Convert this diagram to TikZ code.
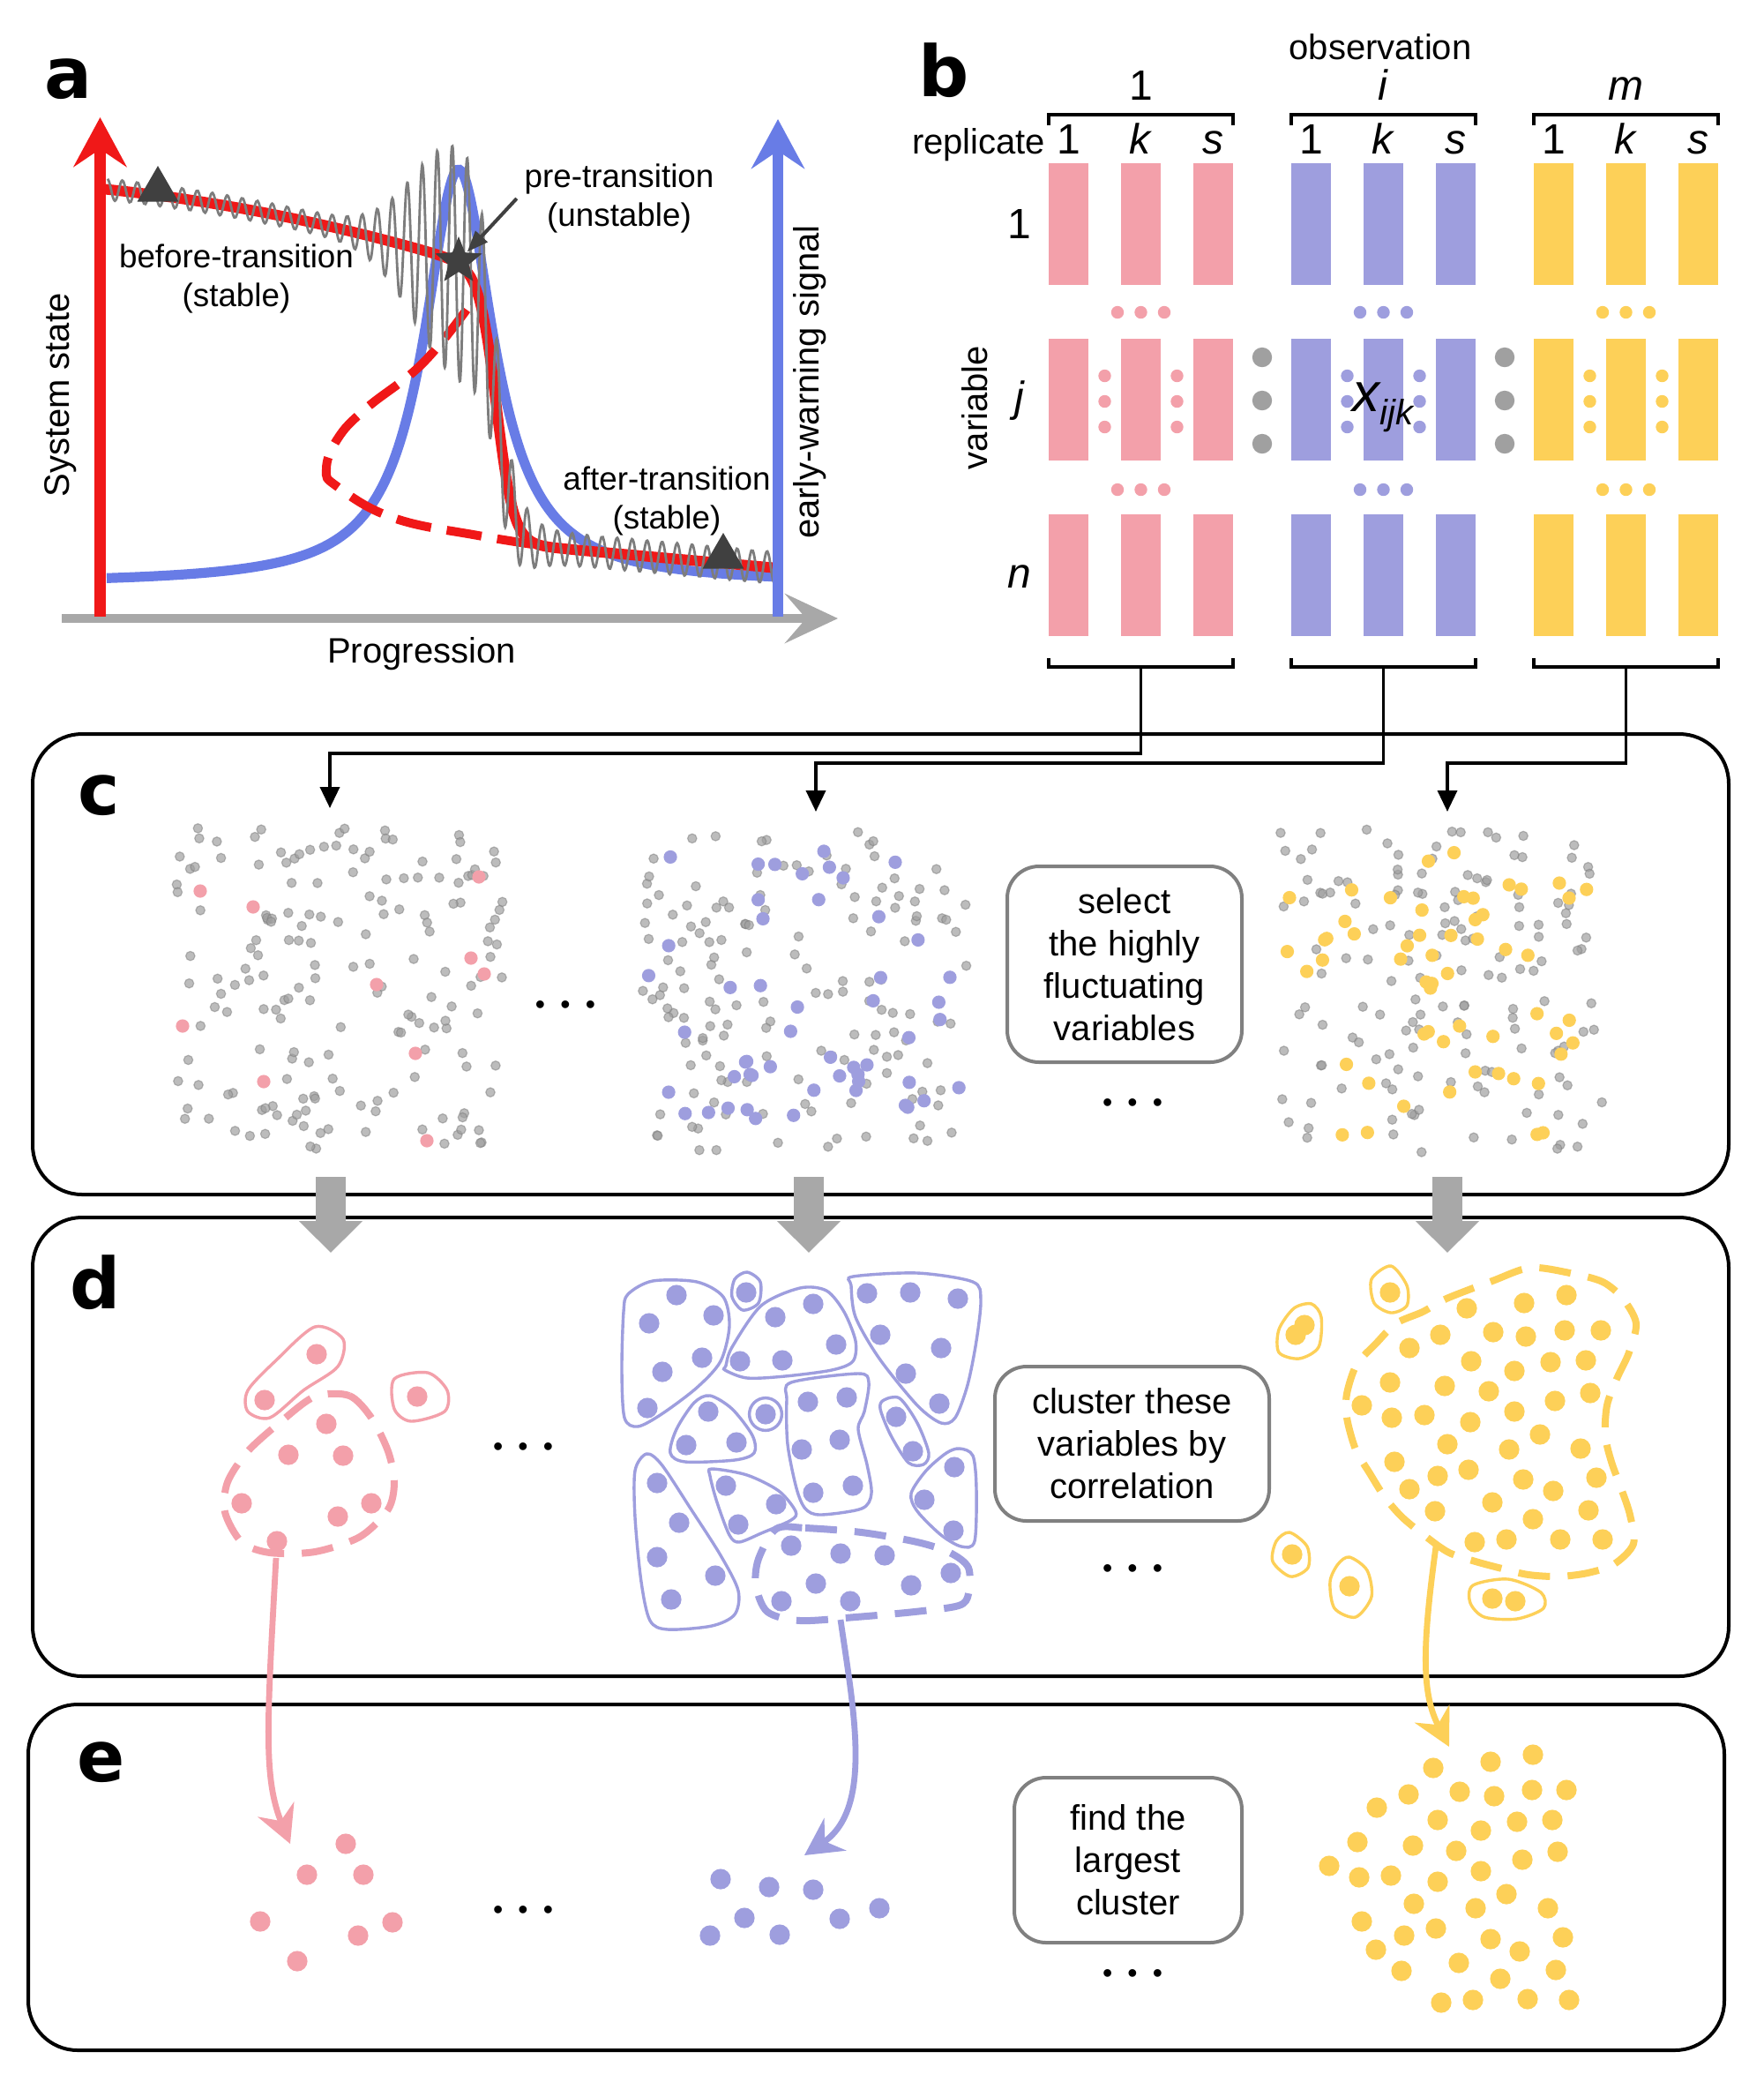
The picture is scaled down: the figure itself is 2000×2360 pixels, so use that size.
\documentclass[tikz,border=0pt]{standalone}
\usepackage{fontspec}
\setmainfont{Liberation Sans}
\newfontfamily\panelfont{DejaVu Sans}
\usepackage{tikz}
\usetikzlibrary{arrows.meta, positioning, calc, shapes.geometric}

\definecolor{redc}{RGB}{240,24,24}
\definecolor{ewsblue}{RGB}{104,124,230}
\definecolor{axisgray}{RGB}{168,168,168}
\definecolor{noisegray}{RGB}{125,125,125}
\definecolor{markgray}{RGB}{64,64,64}
\definecolor{pinkc}{RGB}{243,160,170}
\definecolor{bluec}{RGB}{158,158,222}
\definecolor{yellowc}{RGB}{253,208,88}
\definecolor{dotgray}{RGB}{160,160,160}
\definecolor{boxgray}{RGB}{128,128,128}

\newcommand{\ellip}{\fontsize{8}{8}\selectfont\textbullet\hspace{4.3pt}\textbullet\hspace{4.3pt}\textbullet}
\newcommand{\greyscatter}[2]{%
  \foreach \k in {1,...,#2}{
    \pgfmathsetmacro\px{#1+rnd*370}
    \pgfmathsetmacro\py{938+rnd*368}
    \path[scatdot] (\px,\py) circle[radius=1.3pt];
  }}
\newcommand{\hitscatter}[3]{%
  \foreach \k in {1,...,#3}{
    \pgfmathsetmacro\px{#1+8+rnd*354}
    \pgfmathsetmacro\py{946+rnd*352}
    \fill[#2] (\px,\py) circle[radius=1.9pt];
  }}

\tikzset{
  panel/.style={draw, line width=1pt, rounded corners=14pt},
  plabel/.style={font=\panelfont\bfseries\fontsize{20}{24}\selectfont, inner sep=0pt},
  note/.style={font=\fontsize{9.2}{11}\selectfont, align=center, inner sep=0pt},
  lbl/.style={font=\fontsize{10}{12}\selectfont, inner sep=0pt},
  idx/.style={font=\fontsize{12}{14}\selectfont, inner sep=0pt, anchor=base},
  stepbox/.style={draw=boxgray, line width=1pt, rounded corners=9pt, align=center,
    font=\fontsize{10}{12}\selectfont, inner sep=0pt},
  bar/.style={minimum width=11.25pt, minimum height=34.5pt, inner sep=0pt},
  brk/.style={line width=1pt},
  link/.style={line width=0.9pt, -{Triangle[length=6pt, width=5.5pt]}},
  ptr/.style={draw=markgray, line width=1pt, -{Triangle[length=6pt, width=4.5pt]}},
  bigarrow/.style={draw=axisgray, line width=8.5pt, -{Triangle[length=9pt, width=17.5pt]}},
  scatdot/.style={fill=dotgray, fill opacity=0.7, draw=noisegray, draw opacity=0.5, line width=0.3pt},
  blob/.style={line width=0.85pt},
  dblob/.style={line width=2pt, dash pattern=on 9pt off 5pt},
  cline/.style={line width=1.7pt, -{Stealth[length=10.5pt, width=11pt, inset=3.5pt]}},
  dotsnode/.style={inner sep=0pt},
  declare function={
    sigm(\x)=1/(1+exp(max(-9,min(9,(563-\x)/9.7))));
    sysup(\x)=214+0.1*(\x-115)+(0.01581*(\x-115))*(0.01581*(\x-115));
    sysdown(\x)=622+0.09*(\x-638);
    sysstate(\x)=(1-sigm(\x))*sysup(\x)+sigm(\x)*sysdown(\x);
    ewsig(\x)=662-470/(1+((\x-520)/48)*((\x-520)/48));
    noiseamp(\x)=(\x<520)*(12+120*exp(-min(9,((\x-520)/70)*((\x-520)/70))))
      +(\x>=520)*(18+115*exp(-min(9,((\x-520)/55)*((\x-520)/55))));
  }
}

\begin{document}
\begin{tikzpicture}[x=0.25pt, y=-0.25pt]
\useasboundingbox (0,0) rectangle (2000,2360);
\fill[white] (0,0) rectangle (2000,2360);

% a
\node[plabel] (la) at (77,90) {a};
\draw[axisgray, line width=2.5pt, -{Stealth[length=15pt, width=14pt, inset=6pt]}] (70,701) -- (950,701);
\draw[ewsblue, line width=2.8pt] plot[domain=121:880, samples=150, smooth] (\x,{ewsig(\x)});
\draw[redc, line width=2.5pt, dash pattern=on 10pt off 4.5pt] plot[smooth, tension=0.7] coordinates {(529,351) (478,413) (415,463) (383,497) (370,532) (383,552) (446,587) (542,607) (638,622)};
\draw[redc, line width=3pt] plot[domain=115:880, samples=160, smooth] (\x,{sysstate(\x)});
\draw[noisegray, line width=0.7pt] plot[domain=122:880, samples=460, smooth] (\x,{sysstate(\x)+noiseamp(\x)*sin(21.1765*(\x-500))});
\draw[redc, line width=3.2pt, -{Stealth[length=14pt, width=15pt, inset=5pt]}] (113.5,699) -- (113.5,133);
\draw[ewsblue, line width=3pt, -{Stealth[length=14pt, width=15pt, inset=5pt]}] (882,699) -- (882,135);
\node[regular polygon, regular polygon sides=3, fill=markgray, inner sep=0pt, minimum size=13.5pt] (tri-before) at (179,215) {};
\node[regular polygon, regular polygon sides=3, fill=markgray, inner sep=0pt, minimum size=13.5pt] (tri-after) at (820,631) {};
\node[star, star points=5, star point ratio=2.3, fill=markgray, inner sep=0pt, minimum size=14pt] (star) at (520,296) {};
\node[note] (before) at (268,316) {before-transition\\(stable)};
\node[note] (pre) at (702,225) {pre-transition\\(unstable)};
\node[note] (after) at (756,568) {after-transition\\(stable)};
\draw[ptr] ([xshift=-2pt]pre.west) -- (star);
\node[lbl, rotate=90] (ystate) at (69,448) {System state};
\node[lbl, rotate=90] (yews) at (918,433) {early-warning signal};
\node[lbl] (xprog) at (478,741) {Progression};

% b
\node[plabel] (lb) at (1070,80) {b};
\node[lbl, anchor=base] (obs) at (1565,67) {observation};
\node[lbl, anchor=base east] (rep) at (1186,174) {replicate};
\foreach \g/\col/\t in {0/pinkc/1, 1/bluec/\textit{i}, 2/yellowc/\textit{m}}{
  \node[idx] (grp-\g) at ({1293.5+275*\g},113) {\t};
  \draw[brk] ({1189+275*\g},142) -- ++(0,-12) -- ++(209,0) -- ++(0,12);
  \draw[brk] ({1189+275*\g},746) -- ++(0,10) -- ++(209,0) -- ++(0,-10);
  \coordinate (stem-\g) at ({1293.5+275*\g},756);
  \foreach \r/\s in {0/1, 1/\textit{k}, 2/\textit{s}}{
    \node[idx] (rep-\g-\r) at ({1211.5+275*\g+82*\r},174) {\s};
    \foreach \v in {0,1,2}
      \node[bar, fill=\col] (bar-\g-\v-\r) at ({1211.5+275*\g+82*\r},{254+199*\v}) {};
  }
  \foreach \d in {-1,0,1}{
    \fill[\col] ({1293.5+275*\g+26.5*\d},354) circle[radius=1.8pt];
    \fill[\col] ({1293.5+275*\g+26.5*\d},555) circle[radius=1.8pt];
    \fill[\col] ({1252.5+275*\g},{455+29*\d}) circle[radius=1.8pt];
    \fill[\col] ({1334.5+275*\g},{455+29*\d}) circle[radius=1.8pt];
  }
}
\foreach \xg in {1431,1706}
  \foreach \d in {-1,0,1}
    \fill[dotgray] (\xg,{454+49*\d}) circle[radius=2.8pt];
\node[idx] (row-1) at (1156,270) {1};
\node[idx] (row-j) at (1156,466) {\textit{j}};
\node[idx] (row-n) at (1156,666) {\textit{n}};
\node[lbl, rotate=90] (var) at (1105,462) {variable};
\node[inner sep=0pt] (xijk) at (1568,462) {\fontsize{15.5}{18}\selectfont\itshape x\raisebox{-3.8pt}{\fontsize{10}{12}\selectfont ijk}};

% c
\draw[panel] (37,832) rectangle (1960,1354);
\node[plabel] (lc) at (112,902) {c};
\coordinate (hit-0) at (374,916);
\coordinate (hit-1) at (925,920);
\coordinate (hit-2) at (1641,920);
\draw[link] (stem-0) -- ++(0,98) -| (hit-0);
\draw[link] (stem-1) -- ++(0,109) -| (hit-1);
\draw[link] (stem-2) -- ++(0,109) -| (hit-2);
\pgfmathsetseed{2718}
\greyscatter{200}{175}
\foreach \x/\y in {227/1010, 287/1028, 543/994, 534/1086, 549/1104, 427/1116, 207/1163, 471/1194, 299/1226, 484/1293}
  \fill[pinkc] (\x,\y) circle[radius=1.9pt];
\greyscatter{727}{150}
\hitscatter{727}{bluec}{52}
\greyscatter{1448}{150}
\hitscatter{1448}{yellowc}{56}
\node[dotsnode] (dots-c1) at (641,1142) {\ellip};
\node[stepbox, minimum width=66.5pt, minimum height=55.5pt] (select) at (1275,1093) {select\\the highly\\fluctuating\\variables};
\node[dotsnode] (dots-c2) at (1284,1253) {\ellip};

% d
\draw[panel] (37,1380) rectangle (1960,1900);
\node[plabel] (ld) at (108,1454) {d};
\foreach \n/\x in {p/375, b/917, y/1641}{
  \coordinate (cdown-\n) at (\x,1334);
  \coordinate (dtop-\n) at (\x,1420);
  \draw[bigarrow] (cdown-\n) -- (dtop-\n);
}
\draw[pinkc, blob] plot[smooth cycle] coordinates {(357,1504) (389,1518) (383,1549) (344,1576) (306,1607) (281,1600) (281,1576) (313,1542)};
\draw[pinkc, blob] plot[smooth cycle] coordinates {(447,1563) (485,1556) (507,1576) (504,1600) (466,1611) (447,1597)};
\draw[pinkc, dblob] plot[smooth cycle] coordinates {(357,1583) (396,1582) (421,1607) (440,1645) (447,1680) (440,1711) (408,1742) (357,1759) (306,1760) (274,1748) (255,1714) (258,1680) (281,1645) (319,1611)};
\foreach \x/\y in {359/1535, 300/1587, 473/1583, 370/1614, 327/1649, 389/1650, 274/1704, 421/1704, 383/1719, 314/1747}
  \fill[pinkc] (\x,\y) circle[radius=2.9pt];
\node[dotsnode] (dots-d1) at (593,1643) {\ellip};

\draw[bluec, blob] plot[smooth cycle] coordinates {(712,1467) (740,1452) (790,1453) (820,1470) (827,1503) (817,1543) (790,1573) (750,1603) (723,1617) (708,1607) (705,1553) (707,1487)};
\draw[bluec, blob] plot[smooth cycle] coordinates {(847,1442) (862,1453) (860,1477) (842,1485) (830,1470) (833,1450)};
\draw[bluec, blob] plot[smooth cycle] coordinates {(823,1548) (830,1527) (863,1480) (907,1460) (937,1463) (957,1487) (970,1520) (967,1543) (943,1553) (890,1560) (847,1562) (822,1553)};
\draw[bluec, blob] plot[smooth cycle] coordinates {(967,1447) (1040,1443) (1103,1453) (1112,1473) (1107,1520) (1097,1570) (1083,1607) (1067,1613) (1040,1593) (997,1540) (970,1493) (965,1457)};
\draw[bluec, blob] plot[smooth cycle] coordinates {(805,1582) (830,1597) (853,1627) (855,1647) (833,1655) (777,1657) (760,1647) (767,1620) (787,1590)};
\draw[bluec, blob] (868,1603) circle[radius=4.6pt];
\draw[bluec, blob] plot[smooth cycle] coordinates {(897,1567) (973,1557) (985,1567) (980,1600) (973,1620) (983,1660) (988,1693) (977,1710) (930,1717) (913,1710) (903,1687) (893,1637) (892,1587)};
\draw[bluec, blob] plot[smooth cycle] coordinates {(1002,1587) (1020,1585) (1040,1613) (1053,1647) (1047,1660) (1030,1658) (1010,1627) (998,1597)};
\draw[bluec, blob] plot[smooth cycle] coordinates {(1088,1642) (1103,1650) (1107,1687) (1105,1747) (1090,1753) (1067,1740) (1040,1713) (1033,1693) (1050,1667) (1073,1647)};
\draw[bluec, blob] plot[smooth cycle] coordinates {(733,1648) (750,1660) (783,1710) (817,1763) (837,1803) (833,1830) (807,1843) (757,1847) (737,1837) (727,1793) (720,1720) (720,1667)};
\draw[bluec, blob] plot[smooth cycle] coordinates {(807,1665) (847,1672) (883,1690) (902,1713) (897,1723) (863,1738) (838,1748) (827,1740) (813,1703) (805,1673)};
\draw[bluec, dblob] plot[smooth cycle] coordinates {(880,1733) (913,1732) (977,1737) (1040,1748) (1077,1760) (1098,1777) (1098,1807) (1087,1820) (1037,1827) (970,1833) (907,1837) (870,1827) (857,1797) (860,1767)};
\foreach \x/\y in {767/1468, 736/1500, 809/1491, 796/1539, 751/1555, 734/1596, 846/1465,
  879/1493, 922/1478, 948/1524, 839/1543, 887/1542,
  983/1466, 1032/1465, 1086/1472, 998/1513, 1067/1528, 1027/1557, 1065/1591,
  803/1600, 778/1638, 835/1635, 868/1603,
  916/1589, 960/1584, 909/1643, 952/1632, 922/1692, 967/1684,
  1016/1606, 1035/1645, 1082/1663, 1048/1700, 1081/1735,
  745/1681, 770/1726, 745/1765, 811/1786, 761/1813, 823/1684, 880/1705, 837/1728,
  897/1752, 953/1761, 1003/1763, 1078/1783, 925/1795, 1033/1797, 886/1815, 964/1815}
  \fill[bluec] (\x,\y) circle[radius=2.9pt];
\node[stepbox, minimum width=77.75pt, minimum height=43.75pt] (cluster) at (1283.5,1636.5) {cluster these\\variables by\\correlation};
\node[dotsnode] (dots-d2) at (1284,1781) {\ellip};

\draw[yellowc, blob] plot[smooth cycle] coordinates {(1577,1435) (1595,1457) (1595,1480) (1577,1488) (1558,1477) (1555,1450)};
\draw[yellowc, blob] plot[smooth cycle] coordinates {(1487,1478) (1498,1493) (1495,1527) (1473,1540) (1450,1533) (1450,1507) (1467,1483)};
\draw[yellowc, blob] plot[smooth cycle] coordinates {(1462,1737) (1482,1753) (1483,1777) (1463,1787) (1443,1770) (1447,1747)};
\draw[yellowc, blob] plot[smooth cycle] coordinates {(1530,1765) (1550,1780) (1555,1810) (1537,1833) (1513,1823) (1508,1793) (1517,1773)};
\draw[yellowc, blob] plot[smooth cycle] coordinates {(1670,1797) (1710,1790) (1747,1805) (1750,1823) (1720,1835) (1683,1833) (1667,1817)};
\draw[yellowc, dblob] plot[smooth cycle] coordinates {(1640,1472) (1692,1452) (1735,1437) (1780,1443) (1817,1453) (1840,1472) (1855,1500) (1847,1533) (1833,1563) (1822,1593) (1820,1627) (1827,1657) (1838,1687) (1848,1717) (1852,1750) (1830,1773) (1800,1783) (1767,1787) (1733,1785) (1703,1778) (1673,1770) (1643,1760) (1617,1742) (1590,1720) (1570,1697) (1553,1670) (1537,1643) (1527,1607) (1527,1580) (1538,1547) (1560,1523) (1583,1500) (1613,1487)};
\foreach \x/\y in {1576/1465, 1469/1513, 1479/1502, 1465/1762, 1530/1798, 1692/1812, 1718/1815,
  1663/1483, 1728/1477, 1776/1468, 1633/1513, 1693/1510, 1730/1515, 1774/1508, 1815/1508,
  1598/1528, 1668/1543, 1717/1554, 1758/1544, 1798/1542, 1576/1567, 1638/1571, 1688/1577, 1763/1588, 1803/1579,
  1544/1593, 1578/1607, 1615/1604, 1667/1612, 1717/1600, 1746/1626, 1641/1637, 1711/1643, 1792/1642,
  1581/1657, 1630/1673, 1665/1666, 1727/1677, 1810/1675, 1598/1688, 1761/1690, 1627/1713, 1692/1703, 1801/1712, 1738/1722,
  1672/1748, 1708/1745, 1769/1745, 1817/1745}
  \fill[yellowc] (\x,\y) circle[radius=2.9pt];

% e
\draw[panel] (32,1932) rectangle (1955,2324);
\node[plabel] (le) at (115,1998) {e};
\coordinate (pinkfrom) at (313,1766);
\coordinate (pinkto) at (329,2090);
\coordinate (bluefrom) at (953,1836);
\coordinate (blueto) at (912,2103);
\coordinate (yelfrom) at (1628,1753);
\coordinate (yelto) at (1643,1980);
\draw[cline, pinkc] (pinkfrom) .. controls (303,1950) and (298,2015) .. (pinkto);
\draw[cline, bluec] (bluefrom) .. controls (968,1940) and (990,2050) .. (blueto);
\draw[cline, yellowc] (yelfrom) .. controls (1612,1870) and (1612,1920) .. (yelto);
\foreach \x/\y in {392/2090, 348/2125, 412/2125, 295/2178, 445/2179, 406/2194, 337/2223}
  \fill[pinkc] (\x,\y) circle[radius=2.9pt];
\node[dotsnode] (dots-e1) at (593,2168) {\ellip};
\foreach \x/\y in {817/2130, 872/2139, 922/2142, 844/2174, 952/2175, 997/2163, 805/2194, 884/2193}
  \fill[bluec] (\x,\y) circle[radius=2.9pt];
\node[stepbox, minimum width=64.5pt, minimum height=46.75pt] (largest) at (1279,2108.5) {find the\\largest\\cluster};
\node[dotsnode] (dots-e2) at (1284,2240) {\ellip};
\foreach \x/\y in {1625/2004, 1690/1997, 1738/1989,
  1597/2034, 1655/2031, 1694/2036, 1737/2029, 1776/2029,
  1561/2049, 1630/2063, 1679/2075, 1720/2065, 1760/2063,
  1539/2088, 1602/2092, 1651/2098, 1726/2108, 1766/2099,
  1507/2115, 1541/2128, 1577/2126, 1630/2133, 1679/2121,
  1708/2147, 1603/2158, 1673/2163, 1755/2163,
  1544/2178, 1592/2194, 1628/2186, 1690/2198, 1772/2196,
  1560/2210, 1723/2212, 1654/2225, 1589/2234, 1764/2233, 1701/2243,
  1634/2270, 1670/2267, 1732/2266, 1779/2267}
  \fill[yellowc] (\x,\y) circle[radius=2.9pt];
\end{tikzpicture}
\end{document}
